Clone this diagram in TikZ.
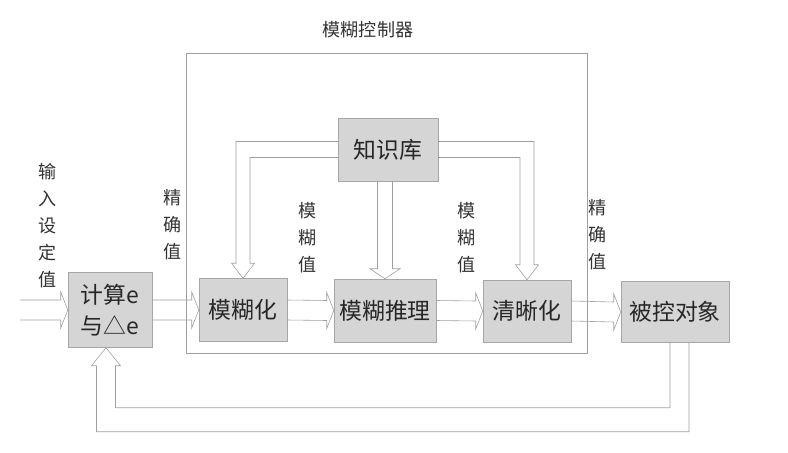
\documentclass[tikz,border=0pt]{standalone}
\usepackage{fontspec}
\setmainfont{Noto Sans CJK SC}
\usepackage{tikz}
\usetikzlibrary{calc}

% hollow block arrow between two points on one row
\newcommand{\harr}[2]{\draw[hol] ($(#1)+(0,-10)$) -- ($(#2)+(-7,-10)$) -- ++(0,-8) -- (#2) -- ($(#2)+(-7,18)$) -- ++(0,-8) -- ($(#1)+(0,10)$);}

\begin{document}
\begin{tikzpicture}[x=0.03cm,y=-0.03cm,
box/.style={draw=gray!70,fill=gray!33,inner sep=0pt,align=center,text=black!85,font=\fontsize{19.5}{26.5}\selectfont},
lbl/.style={inner sep=0pt,align=center,text=black!80,font=\fontsize{15.4}{23}\selectfont},
hol/.style={draw=gray!75,line width=.5pt,line join=miter}]
\useasboundingbox (0,0) rectangle (788,453);
\draw[hol] (186,53) rectangle (587,353);
\node[lbl] (title) at (368,30) {模糊控制器};
\node[box,minimum width=84*0.03cm,minimum height=75*0.03cm] (calc) at (110,310) {计算e\\与△e};
\node[box,minimum width=88*0.03cm,minimum height=63*0.03cm] (fuzz) at (243,310) {模糊化};
\node[box,minimum width=102*0.03cm,minimum height=63*0.03cm] (infer) at (385,310.5) {模糊推理};
\node[box,minimum width=88*0.03cm,minimum height=62*0.03cm] (defuzz) at (527,311) {清晰化};
\node[box,minimum width=108*0.03cm,minimum height=61*0.03cm] (plant) at (675,312) {被控对象};
\node[box,minimum width=100*0.03cm,minimum height=63*0.03cm] (kb) at (388,149.5) {知识库};
\coordinate (in) at (20,310);
\node[lbl] (setv) at (48,226) {输\\入\\设\\定\\值};
\node[lbl] (exl) at (173,225) {精\\确\\值};
\node[lbl] (fzl) at (308,237.5) {模\\糊\\值};
\node[lbl] (fzr) at (467,237.5) {模\\糊\\值};
\node[lbl] (exr) at (598,235) {精\\确\\值};
% main row
\harr{in}{calc.west}
\harr{calc.east}{fuzz.west}
\harr{fuzz.east}{infer.west}
\harr{infer.east}{defuzz.west}
\harr{defuzz.east}{plant.west}
% knowledge base
\draw[hol] ($(kb.west)+(0,-8)$) -| ($(fuzz.north)+(-7,-15)$) -- ++(-4.5,0) -- (fuzz.north) -- ($(fuzz.north)+(11.5,-15)$) -- ++(-4.5,0) |- ($(kb.west)+(0,8)$);
\draw[hol] ($(infer.north |- kb.south)+(-7.5,0)$) -- ($(infer.north)+(-7.5,-10)$) -- ++(-7.5,0) -- (infer.north) -- ($(infer.north)+(15,-10)$) -- ++(-7.5,0) -- ($(infer.north |- kb.south)+(7.5,0)$);
\draw[hol] ($(kb.east)+(0,-8)$) -| ($(defuzz.north)+(7,-15)$) -- ++(4.5,0) -- (defuzz.north) -- ($(defuzz.north)+(-11.5,-15)$) -- ++(4.5,0) |- ($(kb.east)+(0,8)$);
% feedback
\draw[hol] ($(plant.south)+(-5,0)$) -- ++(0,65) -| ($(calc.south)+(5.5,18)$) -- ++(5,0) -- ($(calc.south)+(-4,0)$) -- ($(calc.south)+(-18.5,18)$) -- ++(5,0) -- ++(0,66) -| ($(plant.south)+(14,0)$);
\end{tikzpicture}
\end{document}
